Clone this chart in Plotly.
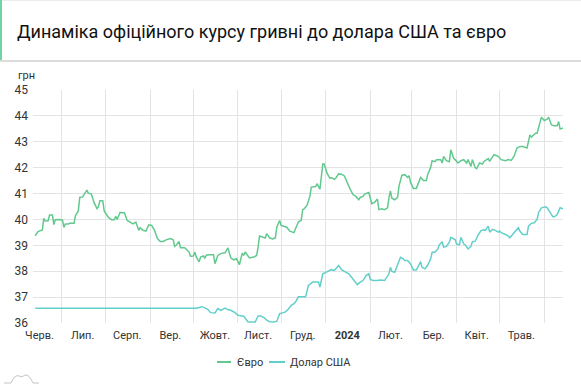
import plotly.graph_objects as go

# ---------------- data ----------------
eur_dates = [
    "2023-06-13", "2023-06-15", "2023-06-18", "2023-06-19", "2023-06-20", "2023-06-22", "2023-06-23", "2023-06-25",
    "2023-06-26", "2023-06-27", "2023-06-30", "2023-07-02", "2023-07-03", "2023-07-04", "2023-07-06", "2023-07-07",
    "2023-07-10", "2023-07-11", "2023-07-13", "2023-07-14", "2023-07-16", "2023-07-18", "2023-07-19", "2023-07-20",
    "2023-07-22", "2023-07-24", "2023-07-26", "2023-07-27", "2023-07-28", "2023-07-30", "2023-07-31", "2023-08-01",
    "2023-08-03", "2023-08-05", "2023-08-07", "2023-08-08", "2023-08-09", "2023-08-11", "2023-08-14", "2023-08-16",
    "2023-08-18", "2023-08-20", "2023-08-22", "2023-08-24", "2023-08-25", "2023-08-27", "2023-08-29", "2023-08-31",
    "2023-09-02", "2023-09-04", "2023-09-06", "2023-09-08", "2023-09-10", "2023-09-12", "2023-09-15", "2023-09-17",
    "2023-09-18", "2023-09-19", "2023-09-21", "2023-09-22", "2023-09-25", "2023-09-28", "2023-09-29", "2023-10-01",
    "2023-10-02", "2023-10-03", "2023-10-05", "2023-10-06", "2023-10-08", "2023-10-09", "2023-10-10", "2023-10-12",
    "2023-10-15", "2023-10-16", "2023-10-18", "2023-10-20", "2023-10-23", "2023-10-25", "2023-10-27", "2023-10-29",
    "2023-10-31", "2023-11-01", "2023-11-02", "2023-11-04", "2023-11-05", "2023-11-06", "2023-11-08", "2023-11-09",
    "2023-11-12", "2023-11-14", "2023-11-15", "2023-11-16", "2023-11-18", "2023-11-20", "2023-11-21", "2023-11-23",
    "2023-11-25", "2023-11-27", "2023-11-28", "2023-11-30", "2023-12-01", "2023-12-03", "2023-12-05", "2023-12-07",
    "2023-12-10", "2023-12-11", "2023-12-13", "2023-12-15", "2023-12-16", "2023-12-17", "2023-12-19", "2023-12-21",
    "2023-12-22", "2023-12-25", "2023-12-26", "2023-12-28", "2023-12-29", "2023-12-30", "2023-12-31", "2024-01-02",
    "2024-01-04", "2024-01-05", "2024-01-07", "2024-01-08", "2024-01-10", "2024-01-12", "2024-01-14", "2024-01-16",
    "2024-01-18", "2024-01-20", "2024-01-22", "2024-01-24", "2024-01-25", "2024-01-27", "2024-01-28", "2024-01-31",
    "2024-02-01", "2024-02-02", "2024-02-04", "2024-02-06", "2024-02-07", "2024-02-09", "2024-02-11", "2024-02-13",
    "2024-02-14", "2024-02-15", "2024-02-16", "2024-02-18", "2024-02-20", "2024-02-21", "2024-02-23", "2024-02-25",
    "2024-02-27", "2024-02-28", "2024-02-29", "2024-03-02", "2024-03-04", "2024-03-05", "2024-03-07", "2024-03-09",
    "2024-03-11", "2024-03-12", "2024-03-14", "2024-03-15", "2024-03-17", "2024-03-18", "2024-03-21", "2024-03-22",
    "2024-03-23", "2024-03-25", "2024-03-27", "2024-03-28", "2024-03-30", "2024-03-31", "2024-04-02", "2024-04-04",
    "2024-04-06", "2024-04-08", "2024-04-09", "2024-04-11", "2024-04-12", "2024-04-14", "2024-04-15", "2024-04-17",
    "2024-04-19", "2024-04-20", "2024-04-21", "2024-04-23", "2024-04-24", "2024-04-26", "2024-04-27", "2024-04-29",
    "2024-04-30", "2024-05-02", "2024-05-05", "2024-05-07", "2024-05-09", "2024-05-11", "2024-05-13", "2024-05-15",
    "2024-05-17", "2024-05-20", "2024-05-21", "2024-05-22", "2024-05-23", "2024-05-26", "2024-05-27", "2024-05-29",
    "2024-05-30", "2024-06-01", "2024-06-03", "2024-06-04", "2024-06-06", "2024-06-08", "2024-06-10", "2024-06-11",
    "2024-06-12", "2024-06-14",
]
eur_values = [
    39.37, 39.53, 39.59, 40.04, 39.94, 39.95, 40.17, 40.17,
    39.80, 39.99, 40.00, 39.97, 39.69, 39.82, 39.82, 39.85,
    39.85, 40.14, 40.33, 40.85, 40.87, 41.08, 41.13, 41.01,
    40.99, 40.65, 40.42, 40.49, 40.72, 40.72, 40.33, 40.24,
    40.08, 39.99, 39.99, 40.12, 40.00, 40.27, 40.26, 39.96,
    39.90, 39.83, 39.90, 39.58, 39.68, 39.58, 39.55, 39.79,
    39.77, 39.58, 39.26, 39.15, 39.15, 39.21, 39.26, 39.21,
    38.96, 39.00, 39.15, 38.91, 38.91, 38.74, 38.58, 38.59,
    38.74, 38.55, 38.36, 38.55, 38.59, 38.51, 38.62, 38.64,
    38.64, 38.29, 38.61, 38.68, 38.71, 38.90, 38.52, 38.44,
    38.48, 38.35, 38.25, 38.70, 38.61, 38.74, 38.55, 38.51,
    38.55, 38.61, 38.93, 39.36, 39.32, 39.28, 39.45, 39.29,
    39.25, 39.29, 39.70, 39.96, 39.77, 39.73, 39.70, 39.55,
    39.49, 39.64, 39.90, 39.97, 40.38, 40.41, 40.54, 40.89,
    41.25, 41.27, 41.38, 41.17, 41.59, 42.14, 42.14, 41.78,
    41.59, 41.62, 41.55, 41.59, 41.76, 41.75, 41.68, 41.40,
    41.17, 40.96, 40.89, 40.76, 40.85, 40.89, 40.98, 41.04,
    40.76, 40.61, 40.66, 40.79, 40.38, 40.41, 40.38, 40.45,
    40.83, 41.10, 40.82, 40.76, 40.85, 41.30, 41.71, 41.73,
    41.62, 41.69, 41.43, 41.20, 41.20, 41.37, 41.62, 41.50,
    41.50, 41.75, 42.01, 42.27, 42.23, 42.31, 42.31, 42.18,
    42.43, 42.27, 42.23, 42.69, 42.36, 42.31, 42.18, 42.27,
    42.31, 42.18, 42.31, 42.05, 42.31, 42.00, 41.96, 42.18,
    42.14, 42.24, 42.28, 42.35, 42.24, 42.41, 42.50, 42.46,
    42.44, 42.31, 42.27, 42.31, 42.28, 42.44, 42.76, 42.82,
    42.82, 42.76, 43.08, 43.27, 43.18, 43.33, 43.33, 43.78,
    43.95, 43.82, 43.87, 43.95, 43.65, 43.62, 43.62, 43.78,
    43.49, 43.53,
]

usd_dates = [
    "2023-06-13", "2023-10-03", "2023-10-05", "2023-10-07", "2023-10-11", "2023-10-13", "2023-10-16", "2023-10-18",
    "2023-10-20", "2023-10-23", "2023-10-25", "2023-10-27", "2023-10-30", "2023-11-01", "2023-11-04", "2023-11-05",
    "2023-11-08", "2023-11-11", "2023-11-13", "2023-11-15", "2023-11-17", "2023-11-19", "2023-11-21", "2023-11-23",
    "2023-11-26", "2023-11-28", "2023-11-30", "2023-12-02", "2023-12-04", "2023-12-06", "2023-12-08", "2023-12-10",
    "2023-12-11", "2023-12-13", "2023-12-15", "2023-12-18", "2023-12-20", "2023-12-23", "2023-12-27", "2023-12-28",
    "2023-12-30", "2024-01-01", "2024-01-03", "2024-01-05", "2024-01-07", "2024-01-09", "2024-01-10", "2024-01-12",
    "2024-01-14", "2024-01-17", "2024-01-19", "2024-01-21", "2024-01-23", "2024-01-25", "2024-01-27", "2024-01-29",
    "2024-01-31", "2024-02-01", "2024-02-03", "2024-02-06", "2024-02-08", "2024-02-11", "2024-02-14", "2024-02-15",
    "2024-02-16", "2024-02-18", "2024-02-20", "2024-02-22", "2024-02-24", "2024-02-25", "2024-02-27", "2024-02-29",
    "2024-03-02", "2024-03-04", "2024-03-05", "2024-03-07", "2024-03-08", "2024-03-10", "2024-03-12", "2024-03-14",
    "2024-03-15", "2024-03-17", "2024-03-19", "2024-03-20", "2024-03-22", "2024-03-23", "2024-03-25", "2024-03-27",
    "2024-03-28", "2024-03-30", "2024-03-31", "2024-04-01", "2024-04-03", "2024-04-04", "2024-04-06", "2024-04-07",
    "2024-04-09", "2024-04-11", "2024-04-12", "2024-04-14", "2024-04-16", "2024-04-18", "2024-04-20", "2024-04-21",
    "2024-04-23", "2024-04-24", "2024-04-26", "2024-04-28", "2024-04-30", "2024-05-01", "2024-05-02", "2024-05-05",
    "2024-05-07", "2024-05-08", "2024-05-10", "2024-05-12", "2024-05-14", "2024-05-15", "2024-05-17", "2024-05-20",
    "2024-05-21", "2024-05-23", "2024-05-25", "2024-05-27", "2024-05-28", "2024-05-30", "2024-06-02", "2024-06-03",
    "2024-06-05", "2024-06-07", "2024-06-08", "2024-06-10", "2024-06-12", "2024-06-14",
]
usd_values = [
    36.5686, 36.5686, 36.60, 36.63, 36.53, 36.40, 36.39, 36.56,
    36.49, 36.58, 36.52, 36.49, 36.40, 36.30, 36.27, 36.26,
    36.04, 36.03, 36.04, 36.27, 36.27, 36.21, 36.11, 36.05,
    36.04, 36.07, 36.36, 36.39, 36.43, 36.53, 36.68, 36.75,
    36.81, 37.01, 37.01, 37.01, 37.45, 37.58, 37.58, 37.39,
    37.90, 37.96, 37.99, 38.06, 38.03, 38.15, 38.22, 38.06,
    38.00, 37.90, 37.77, 37.64, 37.48, 37.58, 37.64, 37.83,
    37.90, 37.68, 37.64, 37.64, 37.66, 37.64, 37.90, 38.15,
    37.99, 37.96, 38.22, 38.54, 38.48, 38.41, 38.41, 38.28,
    38.05, 38.05, 38.15, 38.37, 38.15, 38.09, 38.24, 38.48,
    38.73, 38.73, 38.86, 39.02, 39.14, 38.93, 38.96, 39.12,
    39.31, 39.25, 39.22, 39.05, 39.02, 39.31, 39.05, 39.02,
    38.86, 38.96, 39.14, 39.16, 39.40, 39.57, 39.60, 39.58,
    39.74, 39.51, 39.62, 39.58, 39.51, 39.55, 39.49, 39.42,
    39.36, 39.29, 39.42, 39.51, 39.68, 39.55, 39.42, 39.42,
    39.74, 39.85, 39.87, 40.00, 40.26, 40.45, 40.49, 40.45,
    40.26, 40.10, 40.10, 40.19, 40.45, 40.41,
]

series_names = ["Євро", "Долар США"]
series_colors = ["#62c98e", "#62cfcb"]

month_starts = ["2023-07-01", "2023-08-01", "2023-09-01", "2023-10-01", "2023-11-01", "2023-12-01",
                "2024-01-01", "2024-02-01", "2024-03-01", "2024-04-01", "2024-05-01", "2024-06-01"]
label_dates = ["2023-06-16", "2023-07-16", "2023-08-16", "2023-09-15", "2023-10-16", "2023-11-15",
               "2023-12-16", "2024-01-16", "2024-02-15", "2024-03-16", "2024-04-15", "2024-05-16"]
label_texts = ["Черв.", "Лип.", "Серп.", "Вер.", "Жовт.", "Лист.", "Груд.", "<b>2024</b>",
               "Лют.", "Бер.", "Квіт.", "Трав."]
y_ticks = [36, 37, 38, 39, 40, 41, 42, 43, 44, 45]

title_text = "Динаміка офіційного курсу гривні до долара США та євро"
unit_text = "грн"

# ---------------- layout geometry (pixels) ----------------
W, H = 581, 392
PL, PR, PT, PB = 33, 563, 90, 323  # plot area


def px(x):
    return (x - PL) / (PR - PL)


def py(y):
    return (PB - y) / (PB - PT)


FONT = "Roboto, Arial, sans-serif"

fig = go.Figure()
fig.add_trace(go.Scatter(x=eur_dates, y=eur_values, mode="lines", name=series_names[0],
                         line=dict(color=series_colors[0], width=1.5), showlegend=False))
fig.add_trace(go.Scatter(x=usd_dates, y=usd_values, mode="lines", name=series_names[1],
                         line=dict(color=series_colors[1], width=1.5), showlegend=False))

shapes = []
annotations = []

# header decoration
shapes.append(dict(type="line", xref="paper", yref="paper", x0=px(0), x1=px(W), y0=py(61), y1=py(61),
                   line=dict(color="#dcdcdc", width=2)))
shapes.append(dict(type="line", xref="paper", yref="paper", x0=px(0), x1=px(W), y0=py(0.5), y1=py(0.5),
                   line=dict(color="#ececec", width=1)))
shapes.append(dict(type="rect", xref="paper", yref="paper", x0=px(0), x1=px(2), y0=py(60), y1=py(0),
                   fillcolor="#6fd3a3", line=dict(width=0)))

annotations.append(dict(text=title_text, xref="paper", yref="paper", x=px(15), y=py(31),
                        xanchor="left", yanchor="middle", showarrow=False,
                        font=dict(family=FONT, size=18, color="#111111")))
annotations.append(dict(text=unit_text, xref="paper", yref="paper", x=px(16), y=py(75),
                        xanchor="left", yanchor="middle", showarrow=False,
                        font=dict(family=FONT, size=11, color="#333333")))

# custom legend
leg_y = py(362)
leg_items = [(217, 231, 235), (269, 285, 288)]
for (lx0, lx1, tx), name, col in zip(leg_items, series_names, series_colors):
    shapes.append(dict(type="line", xref="paper", yref="paper", x0=px(lx0), x1=px(lx1), y0=leg_y, y1=leg_y,
                       line=dict(color=col, width=2)))
    annotations.append(dict(text=name, xref="paper", yref="paper", x=px(tx), y=leg_y,
                            xanchor="left", yanchor="middle", showarrow=False,
                            font=dict(family=FONT, size=11, color="#333333")))

# small logo in the corner
logo = (f"M {px(4)} {py(383)} L {px(11)} {py(383)} Q {px(15)} {py(374)} {px(19)} {py(376)} "
        f"Q {px(22)} {py(378)} {px(25)} {py(375)} Q {px(29)} {py(374)} {px(33)} {py(383)} L {px(39)} {py(383)}")
shapes.append(dict(type="path", xref="paper", yref="paper", path=logo, line=dict(color="#c4c4c4", width=1)))

fig.update_layout(
    width=W, height=H,
    margin=dict(l=PL, r=W - PR, t=PT, b=H - PB, pad=0),
    paper_bgcolor="white", plot_bgcolor="white",
    font=dict(family=FONT, size=11, color="#333333"),
    shapes=shapes, annotations=annotations,
    showlegend=False,
    hovermode="x unified",
)
fig.update_xaxes(
    type="date", range=["2023-06-11 12:00", "2024-06-14"],
    tickmode="array", tickvals=label_dates, ticktext=label_texts,
    showgrid=False, zeroline=False, showline=False, ticks="",
    tickfont=dict(family=FONT, size=11, color="#333333"), ticklabelstandoff=4,
    minor=dict(tickmode="array", tickvals=month_starts, showgrid=True, gridcolor="#e3e3e3", gridwidth=1, ticks=""),
    fixedrange=True,
)
fig.update_yaxes(
    range=[36, 45], tickmode="array", tickvals=y_ticks,
    showgrid=True, gridcolor="#e3e3e3", gridwidth=1, zeroline=False, showline=False, ticks="",
    tickfont=dict(family=FONT, size=12, color="#333333"), ticklabelstandoff=4,
    fixedrange=True,
)

fig.write_html("out.html", config={"displayModeBar": False},
               post_script="document.body.style.margin='0';document.body.style.overflow='hidden';")
